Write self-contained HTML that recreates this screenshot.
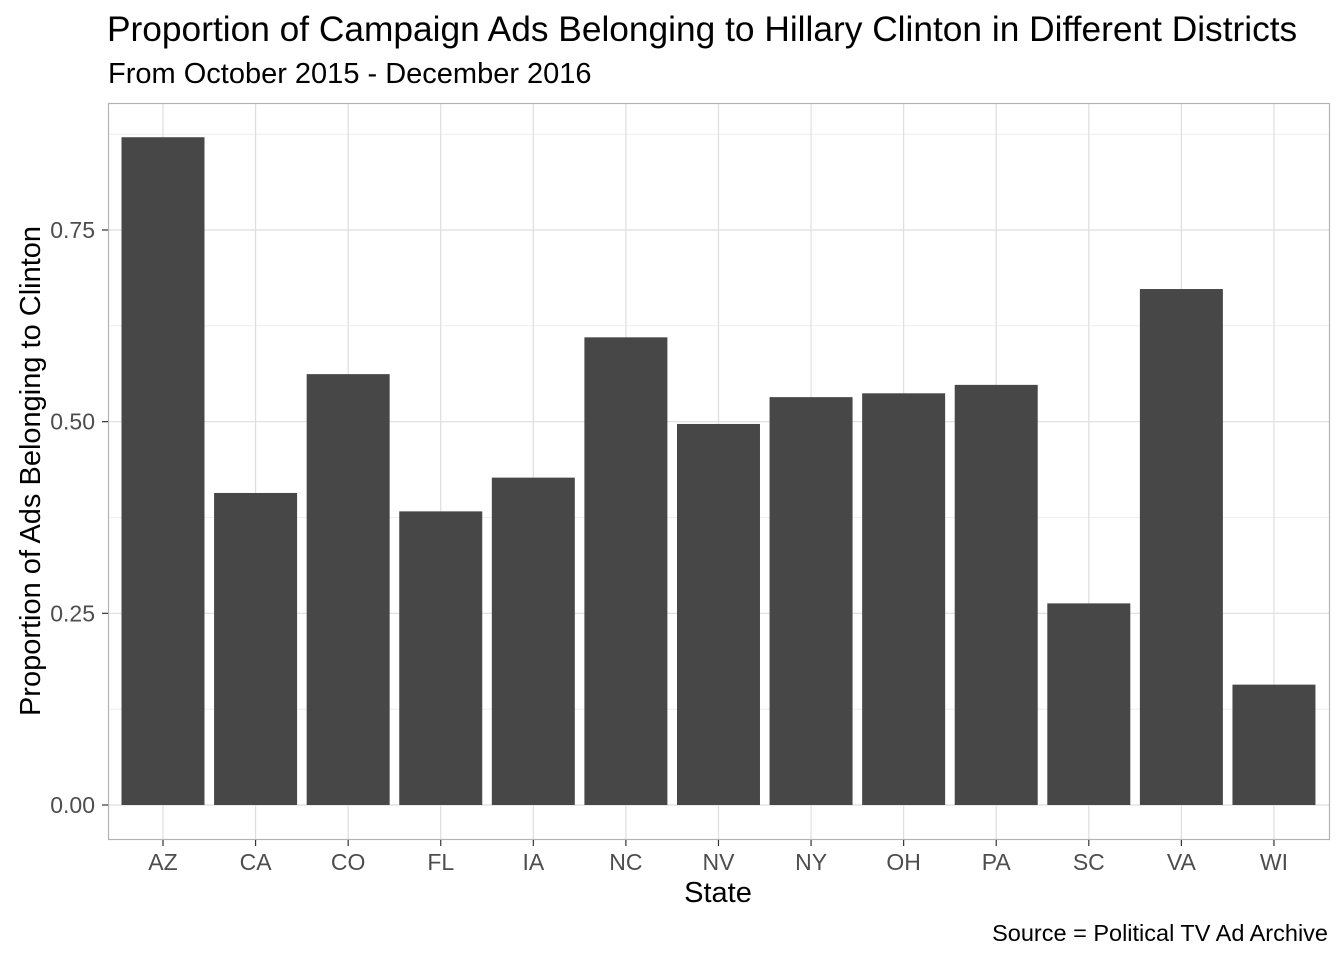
<!DOCTYPE html>
<html><head><meta charset="utf-8">
<style>
body{margin:0;background:#fff;font-family:"Liberation Sans",Arial,sans-serif;}
</style></head>
<body>
<svg id="chart" width="1344" height="960" xmlns="http://www.w3.org/2000/svg">
<text x="107" y="41" font-size="35.3" fill="#000">Proportion of Campaign Ads Belonging to Hillary Clinton in Different Districts</text>
<text x="108" y="83" font-size="29" fill="#000">From October 2015 - December 2016</text>
<g id="grid"></g>
<g id="bars"></g>
<rect x="108.5" y="103.5" width="1221" height="736" fill="none" stroke="#b3b3b3" stroke-width="1.2"/>
<g id="axes"></g>
<text x="718" y="902" font-size="29" text-anchor="middle" fill="#000">State</text>
<text transform="translate(40,471) rotate(-90)" font-size="29" text-anchor="middle" fill="#000">Proportion of Ads Belonging to Clinton</text>
<text x="1328" y="941" font-size="23.5" text-anchor="end" fill="#000">Source = Political TV Ad Archive</text>
</svg>
<script>
const categories=["AZ","CA","CO","FL","IA","NC","NV","NY","OH","PA","SC","VA","WI"];
const values=[0.871,0.407,0.562,0.383,0.427,0.610,0.497,0.532,0.537,0.548,0.263,0.673,0.157];
const yTicks=[0,0.25,0.5,0.75];
const yTickLabels=["0.00","0.25","0.50","0.75"];
const NS="http://www.w3.org/2000/svg";
const y=v=>805-v*766.67;
const x=i=>163+i*92.58;
const bw=83;
const grid=document.getElementById('grid'),bars=document.getElementById('bars'),axes=document.getElementById('axes');
function mk(tag,attrs,parent){const e=document.createElementNS(NS,tag);for(const k in attrs)e.setAttribute(k,attrs[k]);parent.appendChild(e);return e;}
for(let v=0.125;v<0.9;v+=0.25){const l=mk('line',{x1:109,x2:1329,y1:y(v),y2:y(v),stroke:'#ebebeb','stroke-width':0.8},grid);

}
yTicks.forEach((v,i)=>{const l=mk('line',{x1:109,x2:1329,y1:y(v),y2:y(v),stroke:'#dedede','stroke-width':1.2},grid);


const t=mk('line',{x1:102,x2:108,y1:y(v),y2:y(v),stroke:'#333','stroke-width':1.2},axes);


const tx=mk('text',{x:95,y:y(v)+8,'font-size':23,'text-anchor':'end',fill:'#4d4d4d'},axes);tx.textContent=yTickLabels[i];

});
categories.forEach((c,i)=>{const l=mk('line',{x1:x(i),x2:x(i),y1:104,y2:839,stroke:'#dedede','stroke-width':1.2},grid);


const r=mk('rect',{x:x(i)-bw/2,y:y(values[i]),width:bw,height:y(0)-y(values[i]),fill:'#474747'},bars);


const t=mk('line',{x1:x(i),x2:x(i),y1:840,y2:846,stroke:'#333','stroke-width':1.2},axes);


const tx=mk('text',{x:x(i),y:870,'font-size':23,'text-anchor':'middle',fill:'#4d4d4d'},axes);tx.textContent=c;

});
</script>
</body></html>
